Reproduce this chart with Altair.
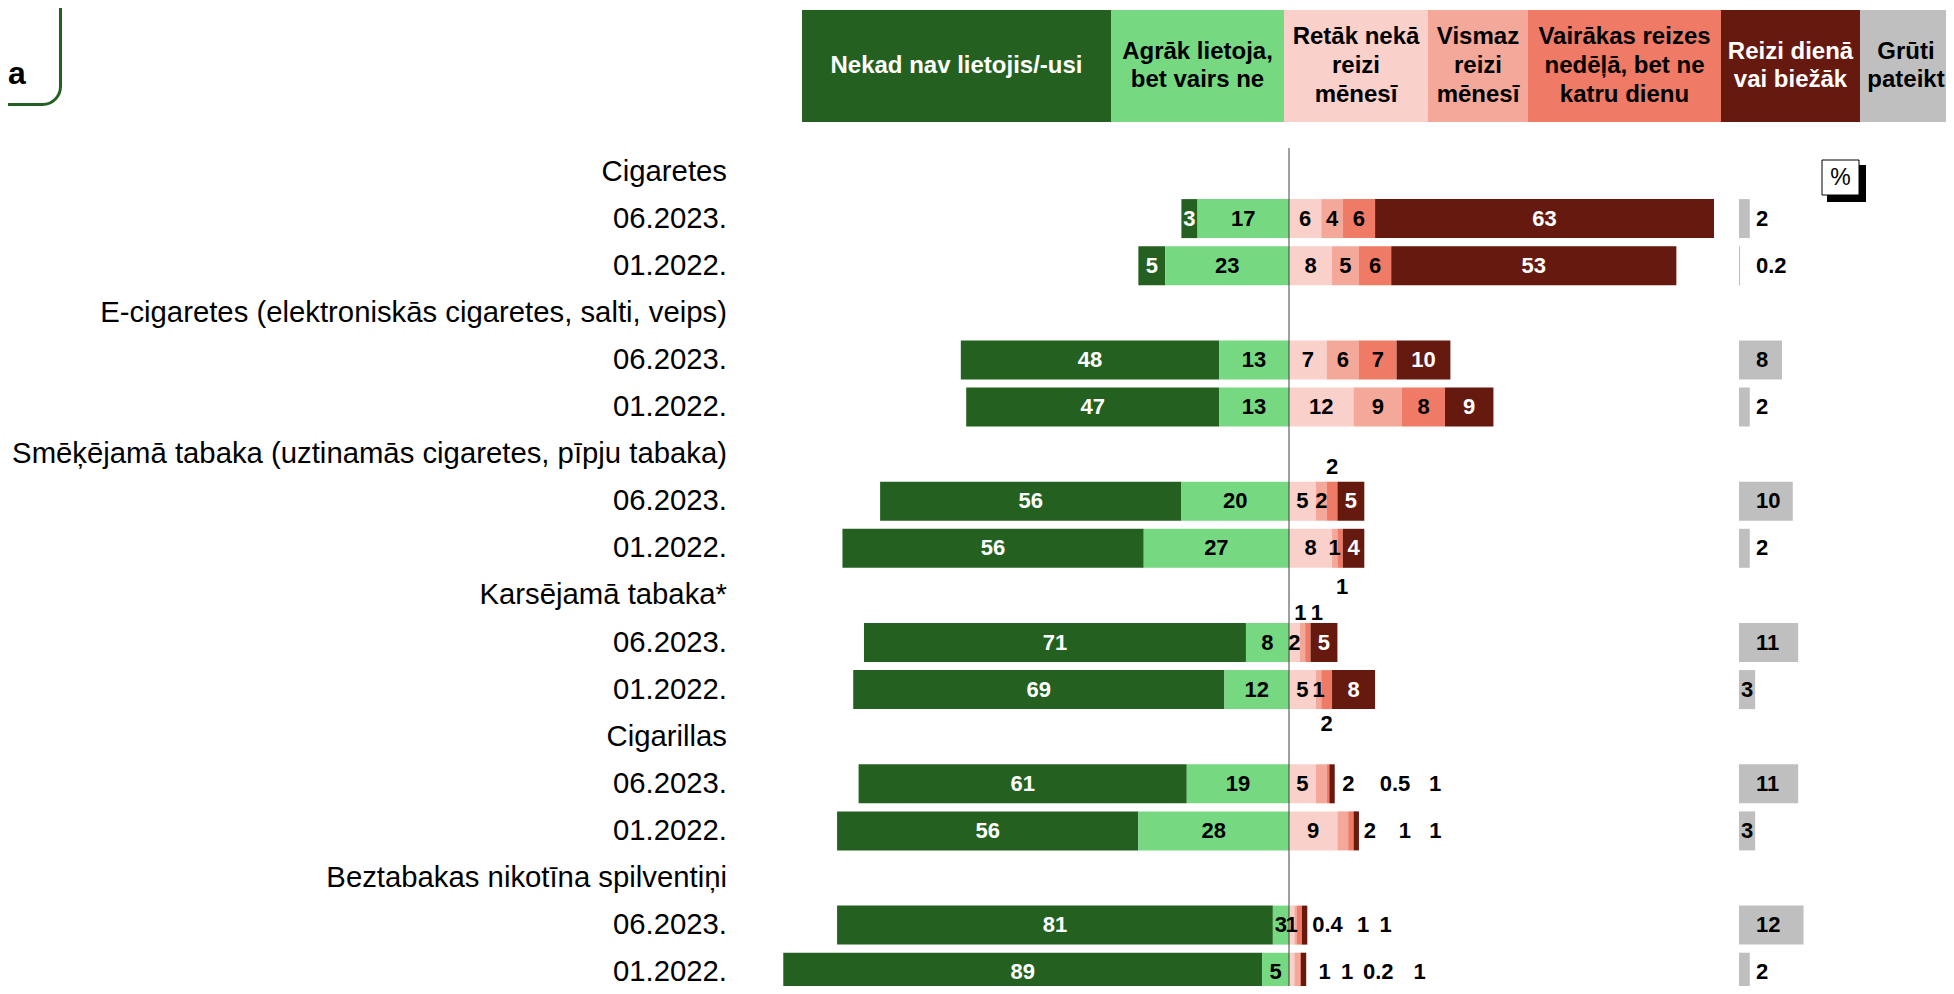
import altair as alt
import pandas as pd

# ---------------- data ----------------
PRODUCTS = [
    "Cigaretes",
    "E-cigaretes (elektroniskās cigaretes, salti, veips)",
    "Smēķējamā tabaka (uztinamās cigaretes, pīpju tabaka)",
    "Karsējamā tabaka*",
    "Cigarillas",
    "Beztabakas nikotīna spilventiņi",
]
PERIODS = ["06.2023.", "01.2022."]
CATEGORIES = [
    "Nekad nav lietojis/-usi",
    "Agrāk lietoja, bet vairs ne",
    "Retāk nekā reizi mēnesī",
    "Vismaz reizi mēnesī",
    "Vairākas reizes nedēļā, bet ne katru dienu",
    "Reizi dienā vai biežāk",
    "Grūti pateikt",
]
# order: product0-06.2023, product0-01.2022, product1-06.2023, ...
NEVER   = [3, 5, 48, 47, 56, 56, 71, 69, 61, 56, 81, 89]
FORMER  = [17, 23, 13, 13, 20, 27, 8, 12, 19, 28, 3, 5]
RARE    = [6, 8, 7, 12, 5, 8, 2, 5, 5, 9, 1, 1]
MONTHLY = [4, 5, 6, 9, 2, 1, 1, 1, 2, 2, 0.4, 1]
WEEKLY  = [6, 6, 7, 8, 2, 1, 1, 2, 0.5, 1, 1, 0.2]
DAILY   = [63, 53, 10, 9, 5, 4, 5, 8, 1, 1, 1, 1]
HARD    = [2, 0.2, 8, 2, 10, 2, 11, 3, 11, 3, 12, 2]

HEADER_TEXT = [
    "Nekad nav lietojis/-usi",
    "Agrāk lietoja,\nbet vairs ne",
    "Retāk nekā\nreizi\nmēnesī",
    "Vismaz\nreizi\nmēnesī",
    "Vairākas reizes\nnedēļā, bet ne\nkatru dienu",
    "Reizi dienā\nvai biežāk",
    "Grūti\npateikt",
]

# ---------------- styling / layout ----------------
COLORS = ["#246121", "#76d982", "#f9d1ca", "#f4a899", "#ef7a65", "#66190e", "#bfbfbf"]
INSIDE_TEXT = ["white", "black", "black", "black", "black", "white", "black"]
HEADER_TEXT_COLOR = ["white", "black", "black", "black", "black", "white", "black"]
HEADER_EDGES = [794, 1103, 1276, 1420, 1520, 1713, 1852, 1944]  # pixel layout of legend strip
HEADER_MID_Y = 58
HEADER_LH = 28.7

FONT = "Liberation Sans"
W, H = 1938, 978
PX_PER_UNIT = 5.38
X_ZERO_PX = 1281
X_DOMAIN = [-X_ZERO_PX / PX_PER_UNIT, (W - X_ZERO_PX) / PX_PER_UNIT]
ROW_STEP = 47.1
ROW0_PX = 163.5
Y_DOMAIN = [-ROW0_PX / ROW_STEP, (H - ROW0_PX) / ROW_STEP]
BAR_HALF = 19.5 / ROW_STEP
HARD_BASE = 450 / PX_PER_UNIT

# label placement overrides: (product, period, category) -> (dx px, dy px); outside labels
LABEL_OFFSETS = {
    (2, 0, 4): (0, -34),
    (2, 1, 4): (2, 39),
    (3, 0, 3): (-2, -30),
    (3, 0, 4): (9, -30),
    (3, 1, 4): (0, 34),
    (4, 0, 3): (27, 0), (4, 0, 4): (67, 0), (4, 0, 5): (103, 0),
    (4, 1, 3): (27, 0), (4, 1, 4): (54, 0), (4, 1, 5): (79, 0),
    (5, 0, 3): (32, 0), (5, 0, 4): (64, 0), (5, 0, 5): (81, 0),
    (5, 1, 2): (33, 0), (5, 1, 3): (50, 0), (5, 1, 4): (78, 0), (5, 1, 5): (116, 0),
}

def fmt(v):
    return f"{v:g}"

# ---------------- build tables ----------------
series = [NEVER, FORMER, RARE, MONTHLY, WEEKLY, DAILY]
seg_rows, lab_rows, hard_rows, row_labels = [], [], [], []
for p, prod in enumerate(PRODUCTS):
    row_labels.append({"row": 3 * p, "label": prod})
    for k, per in enumerate(PERIODS):
        i = 2 * p + k
        row = 3 * p + 1 + k
        row_labels.append({"row": row, "label": per})
        spans = {}
        spans[1] = (-FORMER[i], 0)
        spans[0] = (-FORMER[i] - NEVER[i], -FORMER[i])
        acc = 0
        for c in [2, 3, 4, 5]:
            v = series[c][i]
            spans[c] = (acc, acc + v)
            acc += v
        for c in range(6):
            a, b = spans[c]
            seg_rows.append({"row": row, "cat": CATEGORIES[c], "x0": a, "x1": b,
                             "y0": row - BAR_HALF, "y1": row + BAR_HALF})
            dx, dy = LABEL_OFFSETS.get((p, k, c), (0, 0))
            outside = (p, k, c) in LABEL_OFFSETS
            lab_rows.append({"xl": (a + b) / 2 + dx / PX_PER_UNIT,
                             "yl": row + dy / ROW_STEP,
                             "txt": fmt(series[c][i]),
                             "tc": "black" if outside else INSIDE_TEXT[c]})
        hv = HARD[i]
        hard_rows.append({"row": row, "x0": HARD_BASE, "x1": HARD_BASE + hv,
                          "y0": row - BAR_HALF, "y1": row + BAR_HALF,
                          "xl": HARD_BASE + (2 if hv == 3 else 17) / PX_PER_UNIT,
                          "txt": fmt(hv)})

seg_df = pd.DataFrame(seg_rows)
lab_df = pd.DataFrame(lab_rows)
hard_df = pd.DataFrame(hard_rows)
rowlab_df = pd.DataFrame(row_labels)
head_df = pd.DataFrame({
    "cat": CATEGORIES,
    "x0": HEADER_EDGES[:-1],
    "x1": HEADER_EDGES[1:],
    "xc": [(a + b) / 2 for a, b in zip(HEADER_EDGES[:-1], HEADER_EDGES[1:])],
    "ty": [HEADER_MID_Y - (t.count("\n")) * HEADER_LH / 2 for t in HEADER_TEXT],
    "txt": HEADER_TEXT,
    "tc": HEADER_TEXT_COLOR,
})

XS = alt.Scale(domain=X_DOMAIN, nice=False, zero=False)
YS = alt.Scale(domain=Y_DOMAIN, nice=False, zero=False, reverse=True)
color_scale = alt.Scale(domain=CATEGORIES, range=COLORS)

bars = alt.Chart(seg_df).mark_rect().encode(
    x=alt.X("x0:Q", scale=XS, axis=None),
    x2="x1:Q",
    y=alt.Y("y0:Q", scale=YS, axis=None),
    y2="y1:Q",
    color=alt.Color("cat:N", scale=color_scale, legend=None),
)

hard_bars = alt.Chart(hard_df).mark_rect(color=COLORS[6]).encode(
    x=alt.X("x0:Q", scale=XS, axis=None),
    x2="x1:Q",
    y=alt.Y("y0:Q", scale=YS, axis=None),
    y2="y1:Q",
)

labels = alt.Chart(lab_df).mark_text(font=FONT, fontSize=22, fontWeight="bold",
                                     baseline="middle", align="center").encode(
    x=alt.X("xl:Q", scale=XS, axis=None),
    y=alt.Y("yl:Q", scale=YS, axis=None),
    text="txt:N",
    color=alt.Color("tc:N", scale=None),
)

hard_labels = alt.Chart(hard_df).mark_text(font=FONT, fontSize=22, fontWeight="bold",
                                           baseline="middle", align="left", color="black").encode(
    x=alt.X("xl:Q", scale=XS, axis=None),
    y=alt.Y("row:Q", scale=YS, axis=None),
    text="txt:N",
)

row_text = alt.Chart(rowlab_df).mark_text(font=FONT, fontSize=29.3, align="right",
                                          baseline="middle", color="black").encode(
    x=alt.value(719),
    y=alt.Y("row:Q", scale=YS, axis=None),
    text="label:N",
)

center_line = alt.Chart(pd.DataFrame({"x": [0]})).mark_rule(color="#404040", strokeWidth=1).encode(
    x=alt.X("x:Q", scale=XS, axis=None),
    y=alt.value(140),
    y2=alt.value(H),
)

head_rects = alt.Chart(head_df).mark_rect().encode(
    x=alt.X("x0:Q", scale=None),
    x2="x1:Q",
    y=alt.value(2),
    y2=alt.value(114),
    color=alt.Color("cat:N", scale=color_scale, legend=None),
)
head_text = alt.Chart(head_df).mark_text(font=FONT, fontSize=24, fontWeight="bold",
                                         lineBreak="\n", lineHeight=HEADER_LH,
                                         align="center", baseline="middle").encode(
    x=alt.X("xc:Q", scale=None),
    y=alt.Y("ty:Q", scale=None),
    text="txt:N",
    color=alt.Color("tc:N", scale=None),
)

one = pd.DataFrame({"a": [0]})
pct_shadow = alt.Chart(one).mark_rect(color="black").encode(
    x=alt.value(1819), x2=alt.value(1858), y=alt.value(157), y2=alt.value(194))
pct_box = alt.Chart(one).mark_rect(fill="white", stroke="black", strokeWidth=1).encode(
    x=alt.value(1814), x2=alt.value(1851), y=alt.value(152), y2=alt.value(187))
pct_text = alt.Chart(one).mark_text(font=FONT, fontSize=23, align="center",
                                    baseline="middle", color="black").encode(
    x=alt.value(1832.5), y=alt.value(170), text=alt.value("%"))

title_box = alt.Chart(one).mark_rect(fill="white", stroke="#246121", strokeWidth=3,
                                     cornerRadius=18).encode(
    x=alt.value(-40), x2=alt.value(52.5), y=alt.value(-40), y2=alt.value(96.5))
title_text = alt.Chart(one).mark_text(font=FONT, fontSize=32, fontWeight="bold",
                                      align="left", baseline="alphabetic", color="black").encode(
    x=alt.value(0), y=alt.value(76), text=alt.value("a"))

chart = alt.layer(
    title_box, title_text,
    head_rects, head_text,
    pct_shadow, pct_box, pct_text,
    bars, hard_bars, center_line, labels, hard_labels, row_text,
).resolve_scale(x="independent", y="independent", color="independent").properties(
    width=W, height=H,
    autosize=alt.AutoSizeParams(type="none"),
    padding=0,
).configure_view(stroke=None)

chart.save("out.html", embed_options={"renderer": "svg", "actions": False})
